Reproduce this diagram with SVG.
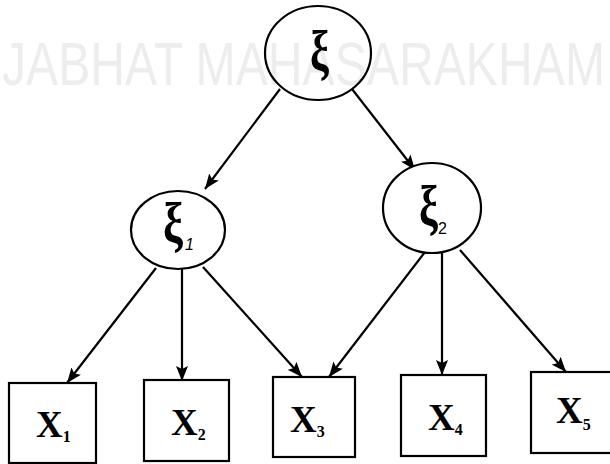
<svg xmlns="http://www.w3.org/2000/svg" width="610" height="464" viewBox="0 0 610 464">
  <style>
    .node { fill: #ffffff; stroke: #000000; stroke-width: 2.2; }
    .ring { fill: none; stroke: #000000; stroke-width: 2.2; }
    .edge { stroke: #000000; stroke-width: 2.2; fill: none; marker-end: url(#arrow); }
    .greek { font-family: "Liberation Serif", "DejaVu Serif", serif; font-weight: bold; font-size: 56px; fill: #000000; }
    .var { font-family: "Liberation Serif", "DejaVu Serif", serif; font-weight: bold; font-size: 37px; fill: #000000; }
    .sub { font-size: 16px; }
    .gsub { font-family: "Liberation Sans", "DejaVu Sans", sans-serif; font-size: 16px; fill: #000000; }
    .mark { font-family: "Liberation Sans", "DejaVu Sans", sans-serif; font-size: 62px; fill: #ededed; }
  </style>
  <defs>
    <marker id="arrow" markerUnits="userSpaceOnUse" markerWidth="16" markerHeight="12" refX="15" refY="6" orient="auto">
      <path d="M0,0 L15,6 L0,12 L3,6 z" fill="#000000"/>
    </marker>
  </defs>

  <rect width="610" height="464" fill="#ffffff"/>

  <!-- background watermark -->
  <text class="mark" x="2" y="85" textLength="603" lengthAdjust="spacingAndGlyphs">JABHAT MAHASARAKHAM</text>

  <!-- connectors -->
  <g id="edges">
    <line class="edge" x1="280" y1="89" x2="205" y2="189"/>
    <line class="edge" x1="352" y1="89" x2="415" y2="170"/>
    <line class="edge" x1="156" y1="268" x2="67" y2="383"/>
    <line class="edge" x1="182" y1="269" x2="182" y2="381"/>
    <line class="edge" x1="203" y1="267" x2="302" y2="377"/>
    <line class="edge" x1="425" y1="252" x2="329" y2="377"/>
    <line class="edge" x1="442" y1="253" x2="442" y2="375"/>
    <line class="edge" x1="460" y1="250" x2="566" y2="372"/>
  </g>

  <!-- latent factors -->
  <g id="xi">
    <ellipse class="ring" cx="318" cy="53" rx="53" ry="47"/>
    <text class="greek" x="310" y="70" textLength="19" lengthAdjust="spacingAndGlyphs">ξ</text>
  </g>
  <g id="xi1">
    <ellipse class="node" cx="178" cy="230" rx="47" ry="39"/>
    <text class="greek" x="163" y="242" textLength="20" lengthAdjust="spacingAndGlyphs">ξ</text>
    <text class="gsub" x="185" y="250" font-style="italic">1</text>
  </g>
  <g id="xi2">
    <ellipse class="node" cx="432" cy="208" rx="49" ry="45"/>
    <text class="greek" x="419" y="225" font-size="52" textLength="19" lengthAdjust="spacingAndGlyphs">ξ</text>
    <text class="gsub" x="438" y="234">2</text>
  </g>

  <!-- observed indicators -->
  <g id="x1">
    <rect class="node" x="9" y="383" width="87" height="80"/>
    <text class="var" x="36" y="437">X<tspan class="sub" dy="5">1</tspan></text>
  </g>
  <g id="x2">
    <rect class="node" x="144" y="380" width="85" height="81"/>
    <text class="var" x="171" y="435">X<tspan class="sub" dy="5">2</tspan></text>
  </g>
  <g id="x3">
    <rect class="node" x="273" y="377" width="82" height="80"/>
    <text class="var" x="290" y="432">X<tspan class="sub" dy="5">3</tspan></text>
  </g>
  <g id="x4">
    <rect class="node" x="401" y="375" width="85" height="81"/>
    <text class="var" x="428" y="430">X<tspan class="sub" dy="5">4</tspan></text>
  </g>
  <g id="x5">
    <rect class="node" x="531" y="372" width="90" height="81"/>
    <text class="var" x="556" y="423">X<tspan class="sub" dy="7">5</tspan></text>
  </g>
</svg>
